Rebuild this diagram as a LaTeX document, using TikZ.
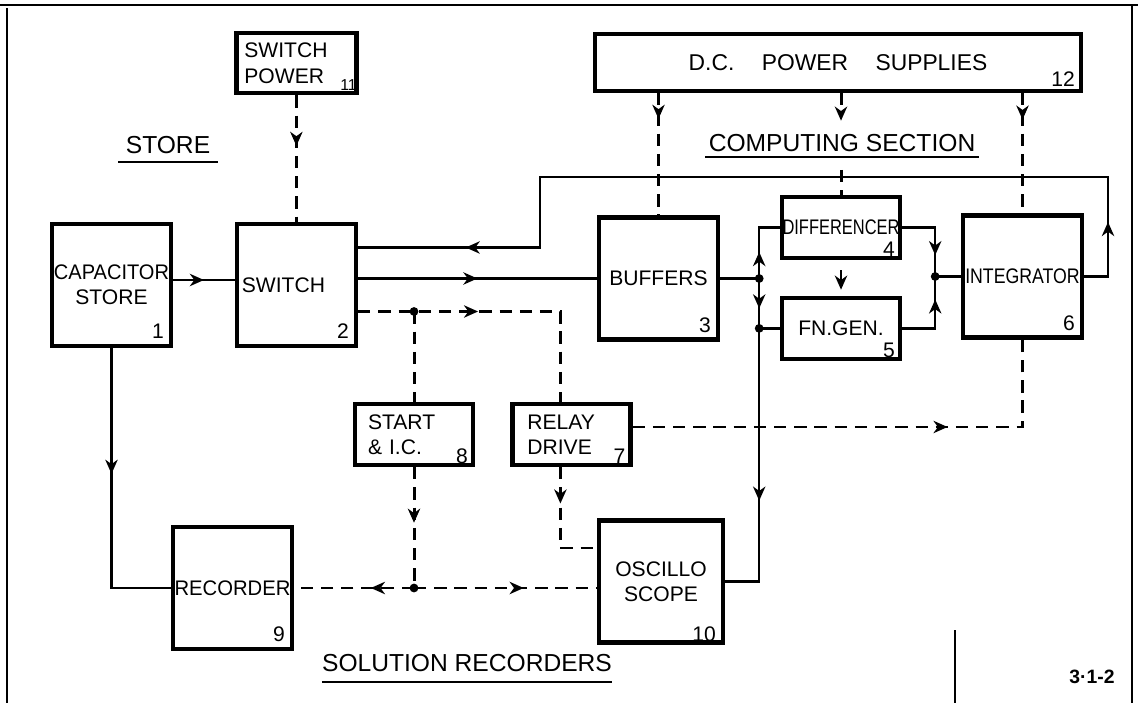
\documentclass[tikz,border=0pt]{standalone}
\usepackage{fontspec}
\setmainfont{Liberation Sans}
\usepackage{graphicx}
\usetikzlibrary{arrows.meta, positioning, calc, decorations.markings}

\newcommand{\boxfont}{\fontsize{12}{14.5}\selectfont}
\newcommand{\dcfont}{\fontsize{13}{15}\selectfont}
\newcommand{\secfont}{\fontsize{14}{16}\selectfont}

\begin{document}
\begin{tikzpicture}[
  box/.style={draw, line width=2.5pt, inner sep=0pt, align=center, font=\boxfont},
  bigbox/.style={box, minimum width=2.38cm, minimum height=2.44cm},
  smallbox/.style={box, minimum width=2.36cm, minimum height=1.22cm},
  lbox/.style={text width=#1, align=left},
  numlbl/.style={anchor=south east, inner sep=0pt, font=\boxfont, xshift=-0.18cm, yshift=0.18cm},
  numsml/.style={anchor=south east, inner sep=0pt, font=\boxfont, xshift=-0.14cm, yshift=0.06cm},
  seclbl/.style={font=\secfont},
  line/.style={line width=1.4pt},
  dline/.style={line width=1.7pt, dash pattern=on 7pt off 4.5pt},
  tip/.style={-{Stealth[length=8pt, width=7pt, inset=2.5pt]}},
  marr/.style={postaction={decorate, decoration={markings,
      mark=at position #1 with {\arrow{Stealth[length=8pt, width=7pt, inset=2.5pt]}}}}},
  sheet/.style={line width=0.6pt},
]
\useasboundingbox (0,0) rectangle (22.76,14.06);

%% --- Sheet edges ---
\draw[sheet] (0,13.96) -- (22.76,13.96);
\draw[sheet] (0.14,13.9) -- (0.14,0);
\draw[sheet] (22.64,13.96) -- (22.64,0);
\draw[sheet] (19.1,1.46) -- (19.1,0);

%% --- Store ---
\node[bigbox, label={[numlbl]south east:1}] (cap) at (2.23,8.36)
  {\scalebox{0.95}[1]{CAPACITOR}\\STORE};
\node[bigbox, lbox=2.18cm, right=1.23cm of cap, label={[numlbl]south east:2}] (sw) {SWITCH};
\node[smallbox, minimum width=2.4cm, minimum height=1.2cm, lbox=2.08cm, above=2.53cm of sw,
  label={[anchor=south east, inner sep=0pt, font=\fontsize{9}{10}\selectfont, xshift=-0.03cm, yshift=0.08cm]south east:11}]
  (swp) {SWITCH\\POWER};
\node[seclbl, inner xsep=0.14cm, inner ysep=0.16cm] (storelbl) at (3.36,11.16) {STORE};
\draw[line] (storelbl.south west) -- (storelbl.south east);

%% --- Computing section ---
\node[bigbox, label={[numlbl]south east:3}] (buf) at (13.17,8.49) {BUFFERS};
\node[smallbox, label={[numsml]south east:4}] (diff) at (16.82,9.51)
  {\scalebox{0.78}[1]{DIFFERENCER}};
\node[smallbox, below=0.71cm of diff, label={[numsml]south east:5}] (fng) {FN.GEN.};
\node[bigbox, label={[numlbl]south east:6}] (integ) at (20.45,8.53)
  {\scalebox{0.84}[1]{INTEGRATOR}};
\node[box, minimum width=9.72cm, minimum height=1.14cm, font=\dcfont,
  label={[anchor=south east, inner sep=0pt, font=\boxfont, xshift=-0.16cm, yshift=0.12cm]south east:12}]
  (dc) at (16.76,12.81) {D.C.\hspace{1.2em}POWER\hspace{1.2em}SUPPLIES};
\node[seclbl, inner xsep=0.06cm, inner ysep=0.1cm] (complbl) at (16.84,11.2) {COMPUTING SECTION};
\draw[line] (complbl.south west) -- (complbl.south east);

%% --- Control and recorders ---
\node[smallbox, lbox=1.84cm, label={[numsml]south east:8}] (start) at (8.28,5.37) {START\\\& I.C.};
\node[smallbox, lbox=1.76cm, right=0.7cm of start, label={[numsml]south east:7}] (relay) {RELAY\\DRIVE};
\node[bigbox, label={[numlbl]south east:9}] (rec) at (4.65,2.3) {\scalebox{0.96}[1]{RECORDER}};
\node[bigbox, minimum width=2.48cm, label={[numlbl, yshift=-0.12cm]south east:10}] (osc) at (13.22,2.43)
  {OSCILLO\\SCOPE};
\node[seclbl, inner xsep=0cm, inner ysep=0.2cm] (sollbl) at (9.34,0.8) {SOLUTION RECORDERS};
\draw[line] (sollbl.south west) -- (sollbl.south east);
\node[font=\bfseries\fontsize{11}{12}\selectfont] (fignum) at (21.84,0.52) {3·1-2};

%% --- Junctions ---
\coordinate (j1) at ([xshift=0.78cm]buf.east);
\coordinate (j2) at (j1 |- fng.west);
\coordinate (j3x) at ([xshift=0.66cm]diff.east);
\coordinate (j3) at (j3x |- integ.west);
\coordinate (swo) at ([yshift=-0.53cm]sw.east);
\coordinate (j4) at (start.north |- swo);
\coordinate (j5) at (start.south |- rec.east);
\coordinate (fbR) at (22.16,10.52);
\coordinate (fbL) at (10.80,10.52);
\path (dc.south -| diff.north) ++(0,-0.55) coordinate (pwrm);
\path (diff.north) ++(0,0.5) coordinate (pwrd);

%% --- Signal paths ---
\draw[line, marr=0.5] ([yshift=0.1cm]cap.east) -- ([yshift=0.1cm]sw.west);
\draw[line, marr=0.5] (sw.east |- buf.west) -- (buf.west);
\draw[line] (buf.east) -- (j1);
\draw[line, marr=0.37] (j1) |- (diff.west);
\draw[line, marr=0.6] (j1) -- (j2);
\draw[line] (j2) -- (fng.west);
\draw[line, marr=0.6] (j2) |- (osc.east);
\draw[line, marr=0.74] (diff.east) -| (j3);
\draw[line, marr=0.73] (fng.east) -| (j3);
\draw[line] (j3) -- (integ.west);
\draw[line, tip, shorten <=0.2cm, shorten >=0.12cm] (diff.south) -- (fng.north);
\draw[line, marr=0.083, marr=0.886] (integ.east) -| (fbR) -- (fbL) |- ([yshift=0.75cm]sw.east);
\draw[line, marr=0.42] (cap.south) |- (rec.west);

%% --- Power and control (dashed) ---
\draw[dline, marr=0.4] (swp.south) -- (sw.north);
\draw[dline, marr=0.21] (dc.south -| buf.north) -- (buf.north);
\draw[dline, tip] (dc.south -| diff.north) -- (pwrm);
\draw[dline] (pwrd) -- (diff.north);
\draw[dline, marr=0.22] (dc.south -| integ.north) -- (integ.north);
\draw[dline, marr=0.41] (swo) -| ([xshift=-0.22cm]relay.north);
\draw[dline] (j4) -- (start.north);
\draw[dline, marr=0.46] (start.south) -- (j5);
\draw[dline, marr=0.36] (j5) -- (rec.east);
\draw[dline, marr=0.6] (j5) -- (j5 -| osc.west);
\draw[dline, marr=0.66] ([yshift=0.15cm]relay.east) -| (integ.south);
\draw[dline, marr=0.31] ([xshift=-0.22cm]relay.south) |- ([yshift=0.67cm]osc.west);

\foreach \j in {j1, j2, j3, j4, j5}
  \fill (\j) circle (2.5pt);

\end{tikzpicture}
\end{document}
